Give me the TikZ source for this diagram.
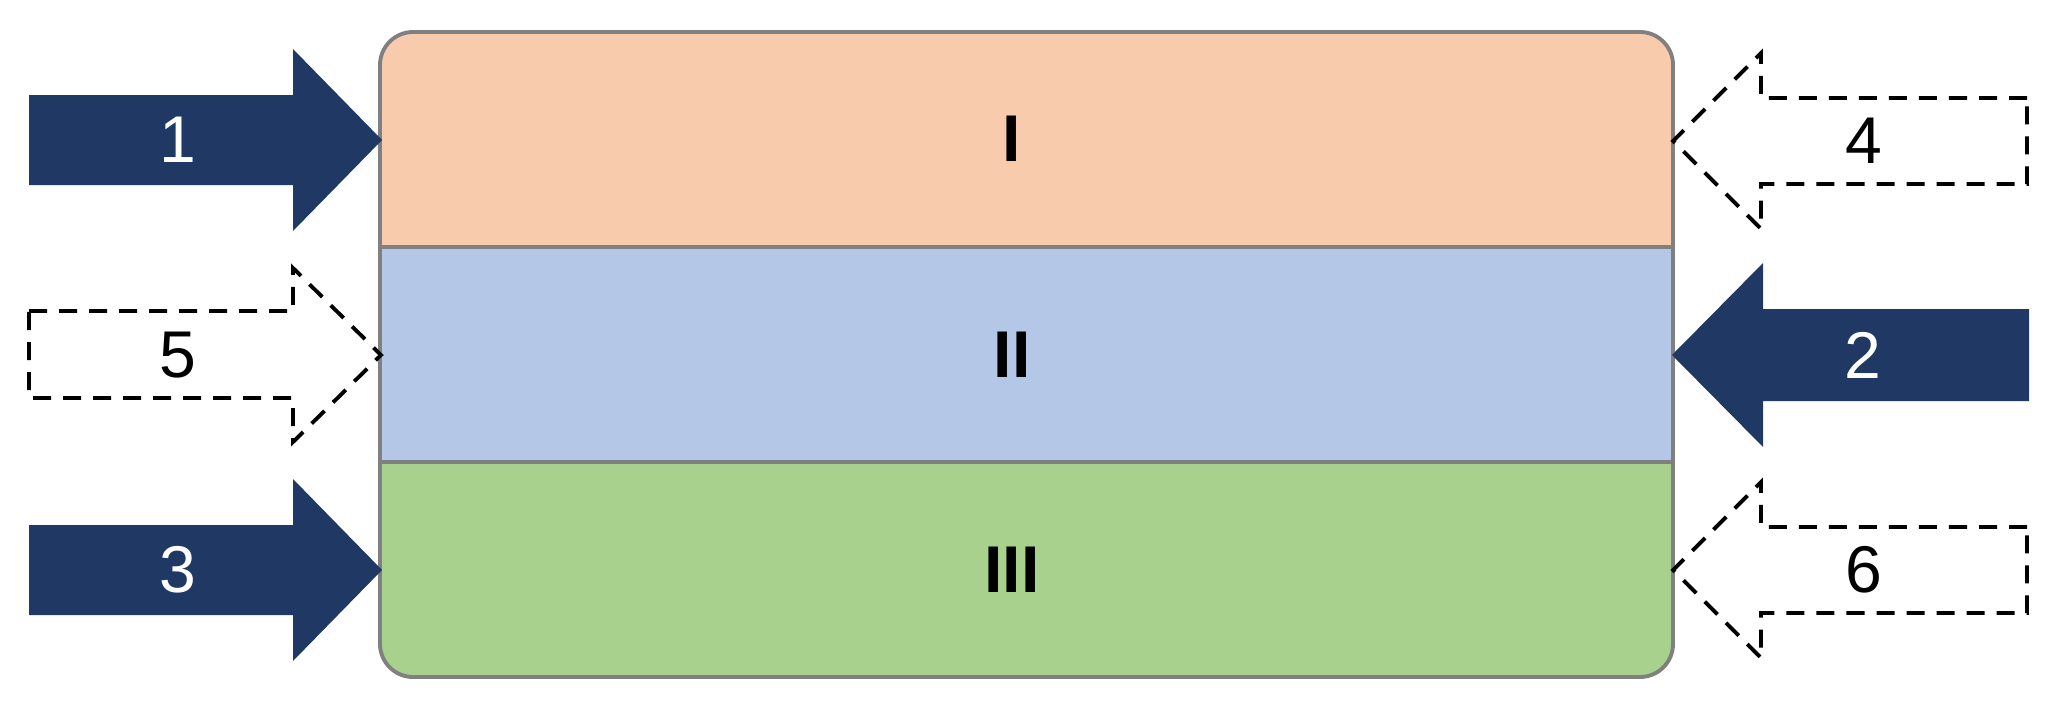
\documentclass[tikz,border=0pt]{standalone}
\usepackage{fontspec}
\setmainfont{Liberation Sans}
\definecolor{navy}{RGB}{31,56,100}
\definecolor{bandA}{RGB}{248,203,173}
\definecolor{bandB}{RGB}{180,199,231}
\definecolor{bandC}{RGB}{169,209,142}
\definecolor{frame}{RGB}{128,128,128}
\begin{document}
\begin{tikzpicture}[x=0.01cm,y=-0.01cm,
  lbl/.style={font=\fontsize{18.8}{21}\selectfont, inner sep=0pt},
  bandlbl/.style={lbl, font=\fontsize{18.8}{21}\selectfont\bfseries, text=black},
  solidarrow/.style={fill=navy, draw=none},
  dasharrow/.style={draw=black, line width=1.1pt, dash pattern=on 0.18cm off 0.12cm, fill=white},
  frameline/.style={draw=frame, line width=1.1pt}]
\useasboundingbox (0,0) rectangle (2061,712);
% main box
\begin{scope}
  \clip[rounded corners=0.33cm] (380,32) rectangle (1673,677);
  \fill[bandA] (380,32) rectangle (1673,247);
  \fill[bandB] (380,247) rectangle (1673,462);
  \fill[bandC] (380,462) rectangle (1673,677);
\end{scope}
\coordinate (d1l) at (380,247); \coordinate (d1r) at (1673,247);
\coordinate (d2l) at (380,462); \coordinate (d2r) at (1673,462);
\draw[frameline] (d1l) -- (d1r);
\draw[frameline] (d2l) -- (d2r);
\draw[frameline, rounded corners=0.33cm] (380,32) rectangle (1673,677);
\node[bandlbl] (b1) at (1012,139) {I};
\node[bandlbl] (b2) at (1012,355) {II};
\node[bandlbl] (b3) at (1012,570) {III};
% left solid arrows 1 and 3
\foreach \cy/\t in {140/1, 570/3}{
  \fill[solidarrow] (29,\cy-45) -- (293,\cy-45) -- (293,\cy-91) -- (382,\cy) -- (293,\cy+91) -- (293,\cy+45) -- (29,\cy+45) -- cycle;
  \node[lbl, text=white] (a\t) at (178,\cy) {\t};
}
% right solid arrow 2
\fill[solidarrow] (2029,309) -- (1763,309) -- (1763,263) -- (1672,355) -- (1763,447) -- (1763,401) -- (2029,401) -- cycle;
\node[lbl, text=white] (a2) at (1863,355) {2};
% left dashed arrow 5
\draw[dasharrow] (29,311) -- (293,311) -- (293,268) -- (381,355) -- (293,442) -- (293,398) -- (29,398) -- cycle;
\node[lbl] (a5) at (178,355) {5};
% right dashed arrows 4 and 6
\foreach \cy/\t in {141/4, 570/6}{
  \draw[dasharrow] (2027,\cy-43) -- (1761,\cy-43) -- (1761,\cy-88) -- (1673,\cy) -- (1761,\cy+88) -- (1761,\cy+43) -- (2027,\cy+43) -- cycle;
  \node[lbl] (a\t) at (1864,\cy) {\t};
}
\end{tikzpicture}
\end{document}
